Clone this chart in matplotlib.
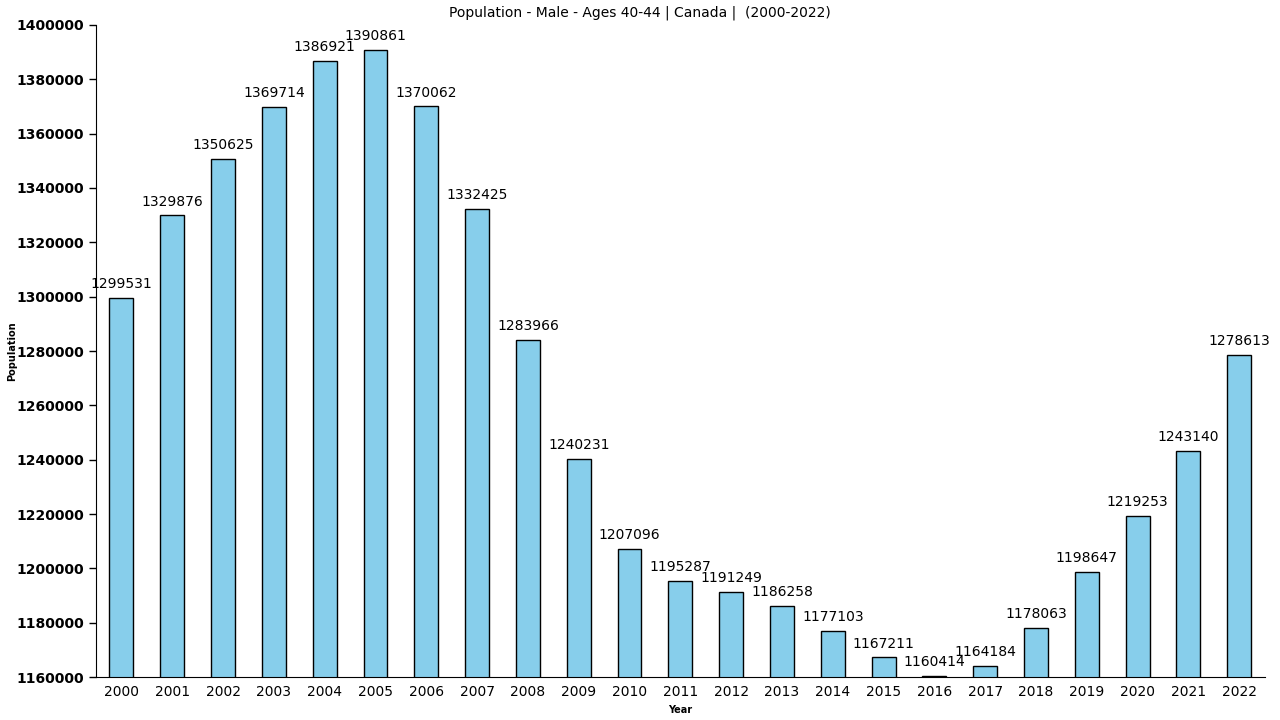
import matplotlib
matplotlib.use("Agg")
import matplotlib.pyplot as plt

years = [str(y) for y in range(2000, 2023)]
values = [1299531, 1329876, 1350625, 1369714, 1386921, 1390861, 1370062, 1332425,
          1283966, 1240231, 1207096, 1195287, 1191249, 1186258, 1177103, 1167211,
          1160414, 1164184, 1178063, 1198647, 1219253, 1243140, 1278613]
yticks = list(range(1160000, 1400001, 20000))

plt.rcParams['font.family'] = ['DejaVu Sans']
fig = plt.figure(figsize=(12.8, 7.2), dpi=100)
ax = fig.add_axes([0.075, 0.0597, 0.913, 0.9056])
x = list(range(len(years)))
ax.bar(x, values, width=0.47, color='#87ceeb', edgecolor='black', linewidth=1)
for xi, v in zip(x, values):
    ax.text(xi, v + 2500, str(v), ha='center', va='bottom', fontsize=10)
ax.set_xlim(-0.5, len(years) - 0.5)
ax.set_ylim(1160000, 1400000)
ax.set_yticks(yticks)
ax.set_yticklabels([str(t) for t in yticks], fontsize=10, fontweight='bold')
ax.set_xticks(x)
ax.set_xticklabels(years, fontsize=10)
ax.tick_params(axis='x', length=0, pad=6)
ax.tick_params(axis='y', length=5, width=1)
for s in ['top', 'right']:
    ax.spines[s].set_visible(False)
ax.set_xlabel('Year', fontsize=7, fontweight='bold', labelpad=4)
fig.text(12 / 1280, 1 - 351 / 720, 'Population', rotation=90, ha='center', va='center',
         fontsize=7, fontweight='bold')
fig.text(0.5, 0.982, 'Population - Male - Ages 40-44 | Canada |  (2000-2022)',
         ha='center', va='center', fontsize=10)
fig.savefig('out.png', dpi=100)
